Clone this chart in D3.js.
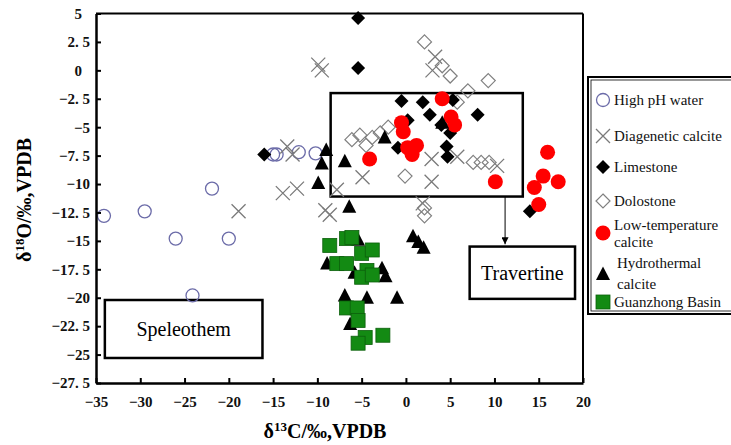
<!DOCTYPE html>
<html>
<head>
<meta charset="utf-8">
<script src="https://cdn.jsdelivr.net/npm/d3@7"></script>
<style>
  body { margin: 0; background: #fff; }
  svg { display: block; }
</style>
</head>
<body>
<div id="chart"></div>
<script>
"use strict";

const WIDTH = 731
const HEIGHT = 445

// tick values
const xTicks = [-35, -30, -25, -20, -15, -10, -5, 0, 5, 10, 15, 20]
const yTicks = [5, 2.5, 0, -2.5, -5, -7.5, -10, -12.5, -15, -17.5, -20, -22.5, -25, -27.5]

// [d13C, d18O]
const highPH = [[-34.1, -12.8], [-29.5, -12.4], [-26.0, -14.8], [-21.9, -10.4], [-20.0, -14.8],
    [-24.1, -19.8], [-15.0, -7.4], [-14.6, -7.4], [-12.1, -7.2], [-10.2, -7.3]]
const diagenetic = [[-18.9, -12.4], [-13.4, -6.7], [-12.8, -7.4], [-13.9, -10.8], [-12.3, -10.4],
    [-9.1, -12.3], [-9.9, 0.5], [-9.5, 0.0], [-4.9, -9.4], [2.9, -9.8], [2.9, -7.8], [5.8, -7.6],
    [10.3, -8.4], [3.3, 1.2], [3.0, 0.0], [1.9, -11.7], [-8.6, -12.7], [-7.8, -10.5]]
const dolostone = [[2.1, 2.5], [4.1, 0.4], [5.0, -0.5], [7.0, -1.8], [9.3, -0.9], [5.8, -2.8],
    [-6.1, -6.1], [-5.2, -5.7], [-4.5, -6.6], [-3.8, -5.9], [-2.9, -5.5], [-2.0, -5.0], [-0.1, -9.3],
    [2.1, -12.1], [2.1, -12.8], [7.6, -8.1], [8.5, -8.1], [9.4, -8.1]]
const limestone = [[-5.4, 4.6], [-5.4, 0.2], [-16.0, -7.4], [-0.5, -2.7], [1.9, -2.8], [2.7, -3.9],
    [4.0, -4.8], [5.3, -2.6], [8.1, -3.9], [4.6, -6.7], [4.7, -7.6], [-0.9, -6.8], [0.2, -4.4],
    [5.0, -5.5], [14.0, -12.4]]
const lowTemp = [[4.1, -2.5], [5.1, -4.1], [5.5, -4.8], [-0.5, -4.6], [-0.3, -5.4], [0.2, -6.8],
    [1.2, -6.6], [0.7, -7.4], [-4.1, -7.8], [10.1, -9.8], [16.0, -7.2], [15.5, -9.3], [17.2, -9.8],
    [14.5, -10.3], [15.0, -11.8]]
const hydrothermal = [[-9.0, -7.0], [-9.5, -8.2], [-6.9, -8.0], [-9.9, -9.9], [-2.4, -5.9], [4.1, -4.6],
    [-6.4, -12.0], [0.8, -14.6], [1.4, -15.1], [2.0, -15.6], [-8.9, -17.0], [-5.4, -14.9], [-2.7, -17.4],
    [-2.3, -18.1], [-6.9, -19.8], [-4.4, -20.0], [-1.0, -20.0], [-6.3, -22.3], [-5.8, -17.8]]
const guanzhong = [[-8.6, -15.4], [-6.7, -14.8], [-6.1, -14.7], [-7.8, -17.0], [-6.7, -17.0], [-5.0, -16.1],
    [-3.8, -15.8], [-4.4, -17.6], [-5.0, -18.2], [-3.8, -18.0], [-6.7, -20.9], [-5.5, -20.9], [-5.4, -22.0],
    [-4.6, -23.5], [-5.4, -24.0], [-2.6, -23.3]]

// annotation boxes in data units: [x0, x1, y0, y1, label]
const boxes = [[-8.5, 13.2, -2.0, -11.1, ""], [7.2, 19.1, -15.5, -20.1, "Travertine"],
    [-34.0, -16.2, -20.2, -25.3, "Speleothem"]]
const arrow = [11.2, -11.1, -15.3]

const legendNames = [["High pH water"], ["Diagenetic calcite"], ["Limestone"], ["Dolostone"],
    ["Low-temperature", "calcite"], ["Hydrothermal", "calcite"], ["Guanzhong Basin"]]

const SERIF = '"Liberation Serif", "Times New Roman", "DejaVu Serif", serif'

const svg = d3.select("#chart").append("svg")
    .attr("width", WIDTH)
    .attr("height", HEIGHT)

const x = d3.scaleLinear().domain([-35, 20]).range([96, 583])
const y = d3.scaleLinear().domain([-27.5, 5]).range([383, 13.5])

// marker drawers
const markers = {
    circle: g => g.append("circle").attr("r", 6.5).attr("fill", "none")
        .attr("stroke", "#6b6ba8").attr("stroke-width", 1.3),
    cross: g => g.append("path").attr("d", "M-7,-7L7,7M-7,7L7,-7").attr("fill", "none")
        .attr("stroke", "#7a7a7a").attr("stroke-width", 1.3),
    diamond: g => g.append("path").attr("d", "M0,-7L7,0L0,7L-7,0Z").attr("fill", "#000"),
    openDiamond: g => g.append("path").attr("d", "M0,-7L7,0L0,7L-7,0Z").attr("fill", "none")
        .attr("stroke", "#808080").attr("stroke-width", 1.2),
    red: g => g.append("circle").attr("r", 7.5).attr("fill", "#f00"),
    triangle: g => g.append("path").attr("d", "M0,-7.5L7,6L-7,6Z").attr("fill", "#000"),
    square: g => g.append("rect").attr("x", -7).attr("y", -7).attr("width", 14).attr("height", 14)
        .attr("fill", "#138a13").attr("stroke", "#0c600c").attr("stroke-width", 0.8),
}

const series = [
    [highPH, "circle"], [diagenetic, "cross"], [dolostone, "openDiamond"], [limestone, "diamond"],
    [lowTemp, "red"], [hydrothermal, "triangle"], [guanzhong, "square"]
]
const legendOrder = ["circle", "cross", "diamond", "openDiamond", "red", "triangle", "square"]

// frame
const frame = svg.append("g")
frame.append("line").attr("x1", x(-35)).attr("x2", x(20)).attr("y1", y(5)).attr("y2", y(5))
    .attr("stroke", "#000").attr("stroke-width", 2)
frame.append("line").attr("x1", x(20)).attr("x2", x(20)).attr("y1", y(5)).attr("y2", y(-27.5))
    .attr("stroke", "#000").attr("stroke-width", 2)

// boxes
boxes.forEach(([x0, x1, y0, y1, label]) => {
    svg.append("rect")
        .attr("x", x(x0)).attr("y", y(y0))
        .attr("width", x(x1) - x(x0)).attr("height", y(y1) - y(y0))
        .attr("fill", "none").attr("stroke", "#000").attr("stroke-width", 2.5)
    if (label)
        svg.append("text")
            .attr("x", (x(x0) + x(x1)) / 2).attr("y", (y(y0) + y(y1)) / 2 + 7)
            .attr("text-anchor", "middle")
            .attr("font-family", SERIF).attr("font-size", 20)
            .text(label)
})

svg.append("defs").append("marker")
    .attr("id", "arrowhead").attr("viewBox", "0 0 10 10")
    .attr("refX", 10).attr("refY", 5)
    .attr("markerWidth", 7).attr("markerHeight", 7)
    .attr("orient", "auto")
    .append("path").attr("d", "M0,0L10,5L0,10Z").attr("fill", "#000")
svg.append("line")
    .attr("x1", x(arrow[0])).attr("x2", x(arrow[0]))
    .attr("y1", y(arrow[1])).attr("y2", y(arrow[2]))
    .attr("stroke", "#000").attr("stroke-width", 1)
    .attr("marker-end", "url(#arrowhead)")

// points
series.forEach(([data, kind]) => {
    const g = svg.append("g")
    data.forEach(d => {
        const m = g.append("g").attr("transform", `translate(${x(d[0])},${y(d[1])})`)
        markers[kind](m)
    })
})

// axes
const fmt = d => {
    let s = String(Math.abs(d)).replace(".", ". ")
    return (d < 0 ? "\u2212" : "") + s
}

const xAxis = svg.append("g")
    .attr("transform", `translate(0,${y(-27.5)})`)
    .call(d3.axisBottom(x).tickValues(xTicks).tickFormat(fmt)
        .tickSizeInner(-5).tickSizeOuter(0).tickPadding(13))
const yAxis = svg.append("g")
    .attr("transform", `translate(${x(-35)},0)`)
    .call(d3.axisLeft(y).tickValues(yTicks).tickFormat(fmt)
        .tickSizeInner(-5).tickSizeOuter(0).tickPadding(6))

;[xAxis, yAxis].forEach(a => {
    a.attr("font-family", SERIF).attr("font-size", 15).attr("font-weight", "bold")
    a.select(".domain").attr("stroke", "#000").attr("stroke-width", 2.5)
    a.selectAll(".tick line").attr("stroke", "#000").attr("stroke-width", 2)
    a.selectAll(".tick text").attr("fill", "#111").style("white-space", "pre")
})
yAxis.selectAll(".tick text")
    .attr("dx", d => (d >= 0 && Number.isInteger(d)) ? -8 : 0)

// axis titles
svg.append("text")
    .attr("x", 325).attr("y", 438)
    .attr("text-anchor", "middle")
    .attr("font-family", SERIF).attr("font-weight", "bold").attr("font-size", 20)
    .call(t => {
        t.append("tspan").text("\u03b4")
        t.append("tspan").attr("font-size", 13).attr("dy", -7).text("13")
        t.append("tspan").attr("dy", 7).text("C/\u2030,VPDB")
    })

svg.append("text")
    .attr("transform", "translate(31,200) rotate(-90)")
    .attr("text-anchor", "middle")
    .attr("font-family", SERIF).attr("font-weight", "bold").attr("font-size", 20)
    .call(t => {
        t.append("tspan").text("\u03b4")
        t.append("tspan").attr("font-size", 13).attr("dy", -7).text("18")
        t.append("tspan").attr("dy", 7).text("O/\u2030,VPDB")
    })

// legend
const legend = svg.append("g")
legend.append("rect").attr("x", 588).attr("y", 77).attr("width", 160).attr("height", 237)
    .attr("fill", "#fff").attr("stroke", "#000").attr("stroke-width", 2)
legend.append("rect").attr("x", 591).attr("y", 80).attr("width", 160).attr("height", 231)
    .attr("fill", "none").attr("stroke", "#000").attr("stroke-width", 0.8)

const legendRows = [[100], [136], [167], [201], [225, 242], [263, 284], [302]]
const legendMarkY = [100, 136, 167, 201, 233, 274, 302]

legendOrder.forEach((kind, i) => {
    const m = legend.append("g").attr("transform", `translate(603,${legendMarkY[i]})`)
    markers[kind](m)
    legendNames[i].forEach((line, j) => {
        legend.append("text")
            .attr("x", i === 5 ? 617 : 614)
            .attr("y", legendRows[i][j] + 5)
            .attr("font-family", SERIF).attr("font-size", 15)
            .attr("fill", "#111")
            .text(line)
    })
})
</script>
</body>
</html>
